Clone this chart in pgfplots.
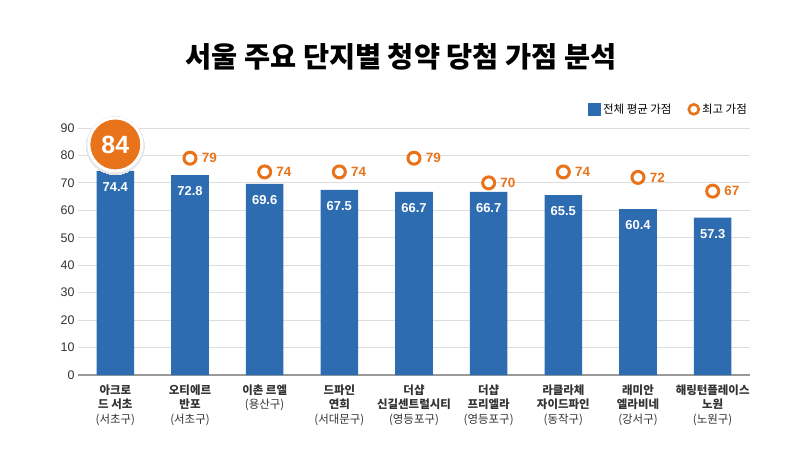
\documentclass[border=0pt]{standalone}
\usepackage{fontspec}
\usepackage{pgfplots}
\pgfplotsset{compat=1.18}
\setmainfont{Noto Sans CJK KR}
\newfontfamily\numfont{Liberation Sans}
\definecolor{barblue}{HTML}{2E6CB1}
\definecolor{dotorange}{HTML}{E8731A}
\definecolor{gridgray}{HTML}{DDDDDD}
\definecolor{labgray}{HTML}{333333}
\definecolor{shadowgray}{HTML}{E6E6E6}
\begin{document}
\begin{tikzpicture}
\fill[white, use as bounding box] (-78bp,-79bp) rectangle (727bp,375bp);
\begin{axis}[
    scale only axis,
    width=672bp, height=247bp,
    xmin=-0.5, xmax=8.5,
    ymin=0, ymax=90,
    ytick={0,10,...,90},
    xtick={0,...,8},
    xticklabels={
      {\textbf{아크로}\\\textbf{드 서초}\\(서초구)},
      {\textbf{오티에르}\\\textbf{반포}\\(서초구)},
      {\textbf{이촌 르엘}\\(용산구)},
      {\textbf{드파인}\\\textbf{연희}\\(서대문구)},
      {\textbf{더샵}\\\textbf{신길센트럴시티}\\(영등포구)},
      {\textbf{더샵}\\\textbf{프리엘라}\\(영등포구)},
      {\textbf{라클라체}\\\textbf{자이드파인}\\(동작구)},
      {\textbf{래미안}\\\textbf{엘라비네}\\(강서구)},
      {\textbf{해링턴플레이스}\\\textbf{노원}\\(노원구)}},
    x tick label style={align=center, font=\fontsize{11.5}{14.5}\selectfont, text=labgray, yshift=-6bp},
    y tick label style={font=\fontsize{12.5}{14}\selectfont\numfont, text=labgray},
    /pgf/number format/assume math mode=true,
    axis line style={draw=none},
    major tick length=0pt,
    ymajorgrids,
    grid style={draw=gridgray, line width=0.8bp},
    extra y ticks={0},
    extra y tick labels={},
    extra y tick style={grid style={draw=gray!80, line width=1.2bp}},
    clip=false,
    legend style={at={(rel axis cs:1,1)}, anchor=south east, yshift=9bp, xshift=2bp,
      draw=none, fill=none, legend columns=2,
      font=\fontsize{11.5}{13}\selectfont,
      /tikz/every even column/.append style={column sep=14bp}},
]
\addplot[ybar, bar width=37.6bp, fill=barblue, draw=none,
    legend image code/.code={\fill[barblue] (0bp,-6.5bp) rectangle (13bp,6.5bp);},
    nodes near coords,
    point meta=explicit symbolic,
    every node near coord/.append style={anchor=north, yshift=-8bp, text=white,
      font=\fontsize{13}{14}\selectfont\numfont\bfseries}]
  coordinates {
    (0,74.4) [74.4] (1,72.8) [72.8] (2,69.6) [69.6] (3,67.5) [67.5] (4,66.7) [66.7]
    (5,66.7) [66.7] (6,65.5) [65.5] (7,60.4) [60.4] (8,57.3) [57.3]
  };
\addlegendentry{전체 평균 가점}
\addplot[only marks, mark=*, mark size=6bp,
    mark options={draw=dotorange, fill=white, line width=3bp},
    legend image code/.code={\draw[dotorange, fill=white, line width=2.6bp] (6bp,0) circle (5bp);},
    nodes near coords,
    point meta=explicit symbolic,
    every node near coord/.append style={anchor=west, xshift=7bp, yshift=0bp, text=dotorange,
      font=\fontsize{13.5}{14}\selectfont\numfont\bfseries}]
  coordinates {
    (1,79) [79] (2,74) [74] (3,74) [74] (4,79) [79]
    (5,70) [70] (6,74) [74] (7,72) [72] (8,67) [67]
  };
\addlegendentry{최고 가점}
% light shadow rim under the highlighted maximum
\addplot[forget plot, only marks, color=shadowgray, mark=*, mark size=29bp,
    mark options={draw=shadowgray, fill=shadowgray, line width=0pt}]
  coordinates {(0,83.6)};
\addplot[forget plot, only marks, color=white, mark=*, mark size=26.5bp,
    mark options={draw=white, fill=dotorange, line width=3bp},
    nodes near coords,
    point meta=explicit symbolic,
    every node near coord/.append style={anchor=center, yshift=0bp, text=white,
      font=\fontsize{25}{26}\selectfont\numfont\bfseries}]
  coordinates {(0,84) [84]};
\end{axis}
\node[font=\fontsize{28.5}{32}\selectfont\bfseries, text=black] at (323bp,318bp)
  {서울 주요 단지별 청약 당첨 가점 분석};
\end{tikzpicture}
\end{document}
